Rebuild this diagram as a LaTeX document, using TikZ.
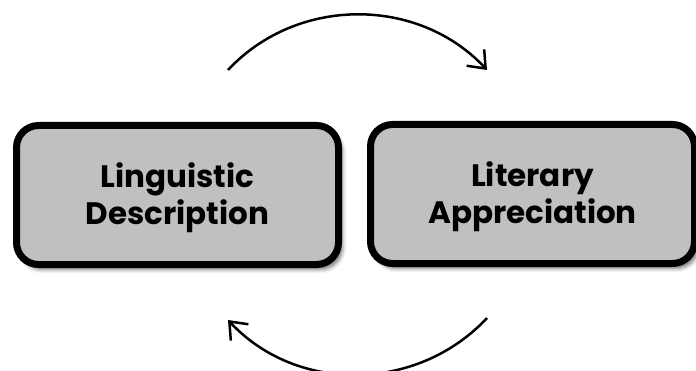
\documentclass[tikz,border=0pt]{standalone}
\usepackage{fontspec}
\setmainfont{Poppins}
\usetikzlibrary{arrows.meta,shadows.blur}
\begin{document}
\begin{tikzpicture}[x=1pt,y=1pt,
  box/.style={draw=black, line width=7pt, fill=boxgray, rounded corners=22pt,
    minimum width=322pt, minimum height=139pt, align=center, inner sep=0pt,
    font=\fontsize{31}{37}\selectfont\bfseries,
    blur shadow={shadow xshift=4pt, shadow yshift=-5pt, shadow blur radius=4pt, shadow opacity=55}},
  cyc/.style={line width=2.5pt, -{Straight Barb[length=15pt,width=24pt,line width=2.5pt]}}]
\definecolor{boxgray}{HTML}{C0C0C0}
\useasboundingbox (0,0) rectangle (696,370);
\node[box] (ld) at (177.5,175) {\raisebox{-4pt}[\height][\depth]{\begin{tabular}{@{}c@{}}Linguistic\\Description\end{tabular}}};
\node[box, minimum width=324pt] (la) at (532.5,176) {\raisebox{-4pt}[\height][\depth]{\begin{tabular}{@{}c@{}}Literary\\Appreciation\end{tabular}}};
\coordinate (a1) at (228,300);
\coordinate (a2) at (487,300);
\coordinate (b1) at (487,52);
\coordinate (b2) at (228,50);
\draw[cyc] (a1) to[out=47,in=133] (a2);
\draw[cyc] (b1) to[out=-133,in=-47] (b2);
\end{tikzpicture}
\end{document}
